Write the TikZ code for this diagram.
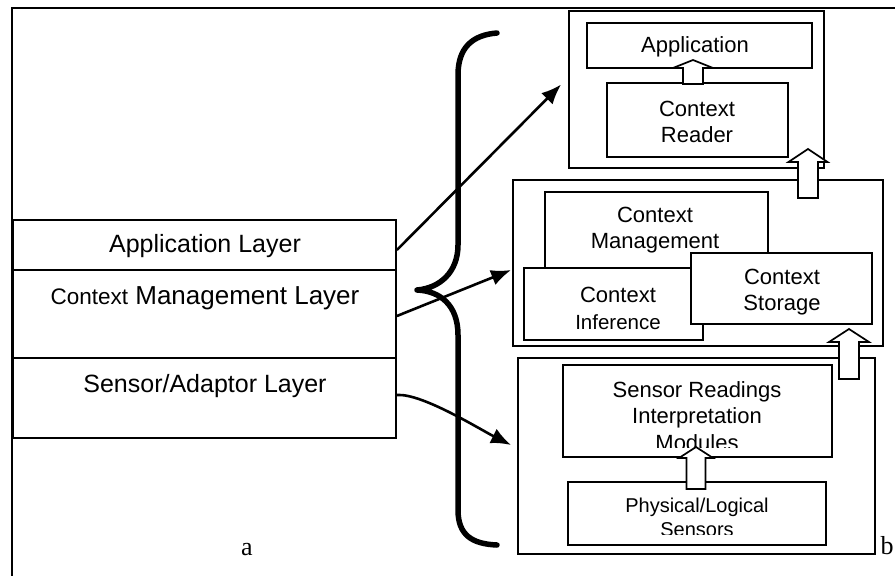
\documentclass[tikz,border=0pt]{standalone}
\usepackage{fontspec}
\setmainfont{Liberation Sans}
\newfontfamily\serifface{Liberation Serif}
\usetikzlibrary{arrows.meta,calc}

% hollow upward block arrow: centre x, shaft bottom, head base, tip, shaft half-width, head half-width
\newcommand\upblock[6]{%
  \draw[blockarrow] (#1-#5,#2) -- (#1-#5,#3) -- (#1-#6,#3) -- (#1,#4)
    -- (#1+#6,#3) -- (#1+#5,#3) -- (#1+#5,#2) -- cycle;}

\begin{document}
\begin{tikzpicture}[x=1pt,y=-1pt,
  box/.style={draw, line width=1.8pt, fill=white, inner sep=0pt},
  txt/.style={inner sep=0pt, align=center, font=\fontsize{22}{26}\selectfont},
  layertxt/.style={inner sep=0pt, align=center, font=\fontsize{25}{30}\selectfont},
  conn/.style={line width=2.6pt, -{Latex[length=20pt,width=16pt]}},
  blockarrow/.style={draw, fill=white, line width=1.7pt, line join=miter},
  brace/.style={line width=5.5pt, line cap=round, line join=round},
  letter/.style={inner sep=0pt, font=\serifface\fontsize{26}{30}\selectfont}]
\useasboundingbox (0,0) rectangle (895,576);

% outer frame
\draw[line width=1.8pt] (12,576) -- (12,8) -- (895,8);

% layered view (a)
\node[box, minimum width=383pt, minimum height=50pt] (applayer) at (204.5,245) {};
\node[box, minimum width=383pt, minimum height=88pt] (ctxlayer) at (204.5,314) {};
\node[box, minimum width=383pt, minimum height=80pt] (senslayer) at (204.5,398) {};
\node[layertxt] (applayertxt) at (205,246) {Application Layer};
\node[layertxt, font=\fontsize{26}{30}\selectfont] (ctxlayertxt) at (205,298)
  {{\fontsize{22.5}{26}\selectfont Context} Management Layer};
\node[layertxt] (senslayertxt) at (205,386) {Sensor/Adaptor Layer};
\node[letter] (la) at (247,550) {a};

% application part (b, top)
\node[box, minimum width=255pt, minimum height=157pt] (topouter) at (696.5,89.5) {};
\node[box, minimum width=225pt, minimum height=45pt] (appbox) at (699.5,45.5) {};
\node[box, minimum width=181pt, minimum height=74pt] (readerbox) at (697.5,120) {};
\node[txt] (apptxt) at (695,47) {Application};
\node[txt] (readertxt) at (697,122) {Context\\Reader};
\upblock{693}{84}{68}{60}{10}{20}

% context management part (b, middle)
\node[box, minimum width=370pt, minimum height=166pt] (midouter) at (698,263) {};
\node[box, minimum width=223pt, minimum height=83pt] (mgmtbox) at (656.5,233.5) {};
\node[txt] (mgmttxt) at (655,230) {Context\\Management};
\node[box, minimum width=179pt, minimum height=72pt] (infbox) at (613.5,304) {};
\node[txt, font=\fontsize{20.5}{27}\selectfont] (inftxt) at (618,308) {{\fontsize{22}{27}\selectfont Context}\\Inference};
\node[box, minimum width=181pt, minimum height=71pt] (storbox) at (781.5,288.5) {};
\begin{scope}
  \clip (691,253) rectangle (872,314);
  \node[txt] (stortxt) at (782,292) {Context\\Storage};
\end{scope}
\upblock{808}{198}{162}{149}{10}{19.5}

% sensor part (b, bottom)
\node[box, minimum width=357pt, minimum height=196pt] (lowouter) at (696.5,456) {};
\node[box, minimum width=269pt, minimum height=92pt] (readingsbox) at (697.5,411) {};
\begin{scope}
  \clip (563,365) rectangle (832,447);
  \node[txt, font=\fontsize{22}{26.5}\selectfont] (readingstxt) at (697,416)
    {Sensor Readings\\Interpretation\\Modules};
\end{scope}
\node[box, minimum width=258pt, minimum height=63pt] (physbox) at (697,513.5) {};
\begin{scope}
  \clip (568,482) rectangle (826,534);
  \node[txt, font=\fontsize{20}{24}\selectfont] (phystxt) at (697,517)
    {Physical/Logical\\Sensors};
\end{scope}
\upblock{696}{489}{458}{447}{9.5}{17}
\upblock{849}{379}{342}{329}{10}{20}
\node[letter] (lb) at (887,546) {b};

% connectors from the layers to their parts
\draw[conn] ($(applayer.east)+(0,5)$) -- ($(topouter.west)+(-7,-5)$);
\draw[conn] ($(ctxlayer.east)+(0,2)$) -- ($(midouter.west)+(-1,7)$);
\draw[conn] ($(senslayer.east)+(0,-3)$) .. controls +(25,-2) and +(-30,-15) .. ($(lowouter.west)+(-6,-11)$);

% curly brace
\draw[brace] (497,33) .. controls (472,35) and (458,48) .. (458,75) -- (458,245)
  .. controls (458,272) and (440,288) .. (417,290)
  .. controls (440,291) and (458,305) .. (458,335) -- (458,510)
  .. controls (458,535) and (472,544) .. (497,545);
\end{tikzpicture}
\end{document}
